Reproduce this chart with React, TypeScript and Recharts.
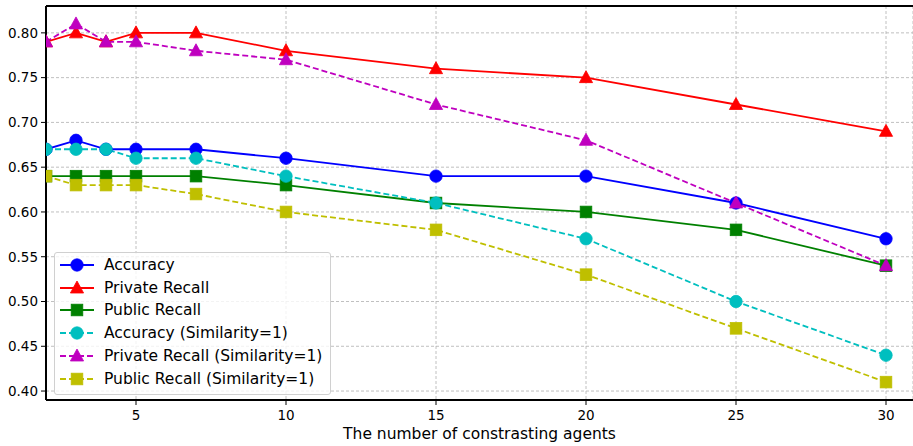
import React from 'react';
import { LineChart, Line, XAxis, YAxis, CartesianGrid, ReferenceLine } from 'recharts';

const agents = [2, 3, 4, 5, 7, 10, 15, 20, 25, 30];
const accuracy = [0.67, 0.68, 0.67, 0.67, 0.67, 0.66, 0.64, 0.64, 0.61, 0.57];
const privateRecall = [0.79, 0.8, 0.79, 0.8, 0.8, 0.78, 0.76, 0.75, 0.72, 0.69];
const publicRecall = [0.64, 0.64, 0.64, 0.64, 0.64, 0.63, 0.61, 0.6, 0.58, 0.54];
const accuracySim = [0.67, 0.67, 0.67, 0.66, 0.66, 0.64, 0.61, 0.57, 0.5, 0.44];
const privateRecallSim = [0.79, 0.81, 0.79, 0.79, 0.78, 0.77, 0.72, 0.68, 0.61, 0.54];
const publicRecallSim = [0.64, 0.63, 0.63, 0.63, 0.62, 0.6, 0.58, 0.53, 0.47, 0.41];

const xTicks = [5, 10, 15, 20, 25, 30];
const yTicks = [0.4, 0.45, 0.5, 0.55, 0.6, 0.65, 0.7, 0.75, 0.8];

const series = [
  { key: 'acc', name: 'Accuracy', values: accuracy, color: '#0000ff', shape: 'circle', dashed: false },
  { key: 'priv', name: 'Private Recall', values: privateRecall, color: '#ff0000', shape: 'triangle', dashed: false },
  { key: 'pub', name: 'Public Recall', values: publicRecall, color: '#008000', shape: 'square', dashed: false },
  { key: 'accSim', name: 'Accuracy (Similarity=1)', values: accuracySim, color: '#00bfbf', shape: 'circle', dashed: true },
  { key: 'privSim', name: 'Private Recall (Similarity=1)', values: privateRecallSim, color: '#bf00bf', shape: 'triangle', dashed: true },
  { key: 'pubSim', name: 'Public Recall (Similarity=1)', values: publicRecallSim, color: '#bfbf00', shape: 'square', dashed: true },
];

const data = agents.map((x, i) => {
  const row: Record<string, number> = { x };
  series.forEach((s) => { row[s.key] = s.values[i]; });
  return row;
});

const FONT = '"DejaVu Sans", sans-serif';

function Marker({ cx, cy, shape, color }: { cx: number; cy: number; shape: string; color: string }) {
  if (shape === 'circle') return <circle cx={cx} cy={cy} r={6.2} fill={color} stroke={color} strokeWidth={0.8} />;
  if (shape === 'square') return <rect x={cx - 5.8} y={cy - 5.8} width={11.6} height={11.6} fill={color} stroke={color} strokeWidth={0.8} />;
  return (
    <polygon
      points={`${cx},${cy - 7} ${cx - 6.6},${cy + 5} ${cx + 6.6},${cy + 5}`}
      fill={color}
      stroke={color}
      strokeWidth={0.8}
    />
  );
}

function LegendBox() {
  return (
    <div
      style={{
        position: 'absolute',
        left: 54,
        top: 252,
        width: 275,
        height: 141,
        border: '1px solid #d0d0d0',
        borderRadius: 3,
        background: 'rgba(255,255,255,0.8)',
        fontFamily: FONT,
        fontSize: 15.5,
        color: '#000',
      }}
    >
      {series.map((s, i) => (
        <div key={s.key} style={{ position: 'absolute', left: 0, top: 1 + i * 22.7, height: 22, display: 'flex', alignItems: 'center' }}>
          <svg width={40} height={22} style={{ marginLeft: 4 }}>
            <line x1={1} y1={11} x2={35} y2={11} stroke={s.color} strokeWidth={1.8} strokeDasharray={s.dashed ? '6 3' : undefined} />
            <Marker cx={18} cy={11} shape={s.shape} color={s.color} />
          </svg>
          <span style={{ marginLeft: 5, whiteSpace: 'nowrap' }}>{s.name}</span>
        </div>
      ))}
    </div>
  );
}

export default function App() {
  return (
    <div style={{ position: 'absolute', left: 0, top: 0, width: 913, height: 446, background: '#fff', overflow: 'hidden' }}>
      <LineChart width={913} height={446} data={data} margin={{ top: 6, right: 0, bottom: 6, left: 0 }}>
        <CartesianGrid stroke="#b0b0b0" strokeDasharray="3 2" strokeWidth={0.8} />
        <XAxis
          dataKey="x"
          type="number"
          domain={[2, 30.9]}
          ticks={xTicks}
          allowDataOverflow
          height={40}
          tickSize={5}
          tickMargin={5}
          axisLine={{ stroke: '#000', strokeWidth: 2 }}
          tickLine={{ stroke: '#000' }}
          tick={{ fill: '#000', fontSize: 13.5, fontFamily: FONT }}
          label={{ value: 'The number of constrasting agents', position: 'insideBottom', offset: 1, fill: '#000', fontSize: 15.5, fontFamily: FONT }}
        />
        <YAxis
          type="number"
          domain={[0.39, 0.83]}
          ticks={yTicks}
          allowDataOverflow
          width={46}
          tickSize={5}
          tickMargin={3}
          tickFormatter={(v: number) => v.toFixed(2)}
          axisLine={{ stroke: '#000', strokeWidth: 2 }}
          tickLine={{ stroke: '#000' }}
          tick={{ fill: '#000', fontSize: 13.5, fontFamily: FONT }}
        />
        <ReferenceLine y={0.83} stroke="#000" strokeWidth={2} />
        {series.map((s) => (
          <Line
            key={s.key}
            dataKey={s.key}
            name={s.name}
            type="linear"
            stroke={s.color}
            strokeWidth={1.8}
            strokeDasharray={s.dashed ? '6 3' : undefined}
            isAnimationActive={false}
            dot={(p: any) => <Marker key={`${s.key}-${p.index}`} cx={p.cx} cy={p.cy} shape={s.shape} color={s.color} />}
            activeDot={false}
          />
        ))}
      </LineChart>
      <LegendBox />
    </div>
  );
}
